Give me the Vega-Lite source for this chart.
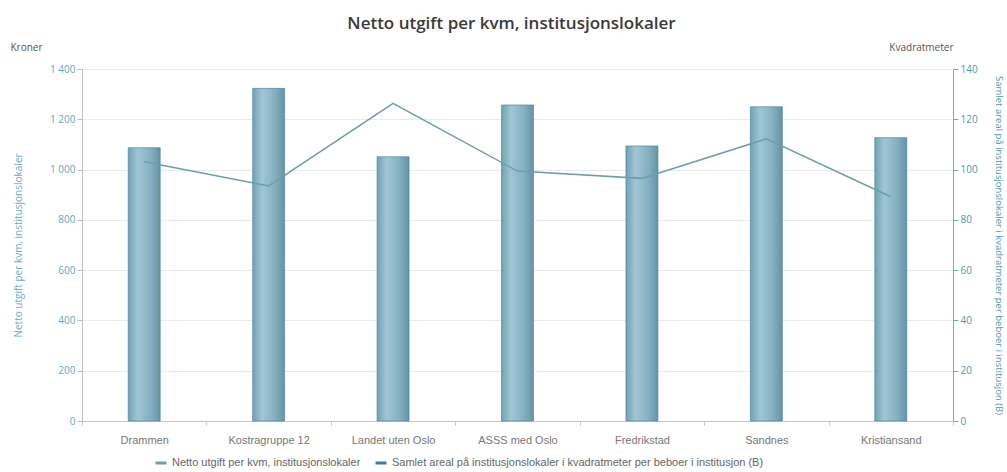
{
  "$schema": "https://vega.github.io/schema/vega-lite/v6.json",
  "width": 871,
  "height": 352,
  "autosize": {"type": "none"},
  "padding": {"left": 82, "top": 69, "right": 54, "bottom": 51},
  "background": "white",
  "title": {
    "text": "Netto utgift per kvm, institusjonslokaler",
    "font": "Open Sans",
    "fontSize": 17,
    "fontWeight": 600,
    "color": "#3a3a3a",
    "anchor": "middle",
    "frame": "group",
    "offset": 9,
    "dx": -6
  },
  "config": {
    "view": {"stroke": null},
    "font": "Open Sans",
    "axis": {"labelFont": "Open Sans", "titleFont": "Open Sans", "labelFontSize": 10, "titleFontSize": 10, "titleFontWeight": "normal"}
  },
  "data": {
    "values": [
      {"kommune": "Drammen", "netto": 1031, "areal": 108.7},
      {"kommune": "Kostragruppe 12", "netto": 935, "areal": 132.3},
      {"kommune": "Landet uten Oslo", "netto": 1263, "areal": 105.1},
      {"kommune": "ASSS med Oslo", "netto": 994, "areal": 125.7},
      {"kommune": "Fredrikstad", "netto": 965, "areal": 109.4},
      {"kommune": "Sandnes", "netto": 1122, "areal": 125},
      {"kommune": "Kristiansand", "netto": 892, "areal": 112.7}
    ]
  },
  "encoding": {
    "x": {
      "field": "kommune",
      "type": "nominal",
      "sort": null,
      "scale": {"paddingInner": 0, "paddingOuter": 0},
      "axis": {
        "title": null,
        "labelAngle": 0,
        "labelColor": "#777777",
        "labelFont": "Liberation Sans",
        "labelFontSize": 11,
        "labelPadding": 9,
        "domainColor": "#c0c8cc",
        "tickColor": "#c0c8cc",
        "tickBand": "extent",
        "tickSize": 4,
        "grid": false
      }
    }
  },
  "layer": [
    {
      "layer": [
        {
          "mark": {
            "type": "bar",
            "size": 32,
            "strokeWidth": 0.6,
            "fill": {
              "gradient": "linear",
              "x1": 0, "x2": 1, "y1": 0, "y2": 0,
              "stops": [
                {"offset": 0, "color": "#72a2b4"},
                {"offset": 0.3, "color": "#a0c6d4"},
                {"offset": 0.7, "color": "#84b0c1"},
                {"offset": 1, "color": "#6593a6"}
              ]
            }
          },
          "encoding": {
            "y": {
              "field": "areal",
              "type": "quantitative",
              "scale": {"domain": [0, 140]},
              "axis": {
                "orient": "right",
                "title": "Samlet areal på institusjonslokaler i kvadratmeter per beboer i institusjon (B)",
                "titleAngle": 90,
                "titleColor": "#4d9aa8",
                "titlePadding": 16,
                "titleFontSize": 9.5,
                "values": [0, 20, 40, 60, 80, 100, 120, 140],
                "labelColor": "#4d9aa8",
                "domainColor": "#7aaab4",
                "tickColor": "#7aaab4",
                "tickSize": 5,
                "grid": false
              }
            },
            "stroke": {
              "datum": "Samlet areal på institusjonslokaler i kvadratmeter per beboer i institusjon (B)",
              "type": "nominal",
              "scale": {
                "domain": ["Netto utgift per kvm, institusjonslokaler", "Samlet areal på institusjonslokaler i kvadratmeter per beboer i institusjon (B)"],
                "range": ["#6c9fa8", "#3f7d9a"]
              },
              "legend": {
                "orient": "none",
                "legendX": 72,
                "legendY": 387,
                "direction": "horizontal",
                "title": null,
                "symbolType": "stroke",
                "symbolStrokeWidth": 3,
                "symbolSize": 120,
                "labelFont": "Liberation Sans",
                "labelFontSize": 11,
                "labelColor": "#666666",
                "columnPadding": 8,
                "labelLimit": 600
              }
            }
          }
        },
        {
          "mark": {"type": "bar", "opacity": 0},
          "encoding": {
            "y": {
              "field": "areal",
              "type": "quantitative",
              "axis": {
                "orient": "right",
                "title": "Kvadratmeter",
                "titleAngle": 0,
                "titleAlign": "right",
                "titleBaseline": "bottom",
                "titleX": 0,
                "titleY": -17,
                "titleColor": "#555555",
                "labels": false,
                "ticks": false,
                "domain": false,
                "grid": false
              }
            }
          }
        }
      ],
      "resolve": {"axis": {"y": "independent"}}
    },
    {
      "layer": [
        {
          "mark": {"type": "line", "strokeWidth": 1.5},
          "encoding": {
            "y": {
              "field": "netto",
              "type": "quantitative",
              "scale": {"domain": [0, 1400]},
              "axis": {
                "orient": "left",
                "title": "Netto utgift per kvm, institusjonslokaler",
                "titleColor": "#6aaccc",
                "titlePadding": 26,
                "values": [0, 200, 400, 600, 800, 1000, 1200, 1400],
                "format": ",d",
                "labelExpr": "replace(datum.label, ',', ' ')",
                "labelColor": "#5fa6c6",
                "domainColor": "#b8bec2",
                "tickColor": "#b8bec2",
                "tickSize": 5,
                "grid": true,
                "gridColor": "#eaeaea"
              }
            },
            "stroke": {"datum": "Netto utgift per kvm, institusjonslokaler", "type": "nominal"}
          }
        },
        {
          "mark": {"type": "line", "opacity": 0},
          "encoding": {
            "y": {
              "field": "netto",
              "type": "quantitative",
              "axis": {
                "orient": "left",
                "title": "Kroner",
                "titleAngle": 0,
                "titleAlign": "left",
                "titleBaseline": "bottom",
                "titleX": -72,
                "titleY": -17,
                "titleColor": "#555555",
                "labels": false,
                "ticks": false,
                "domain": false,
                "grid": false
              }
            }
          }
        }
      ],
      "resolve": {"axis": {"y": "independent"}}
    }
  ],
  "resolve": {"scale": {"y": "independent"}}
}
